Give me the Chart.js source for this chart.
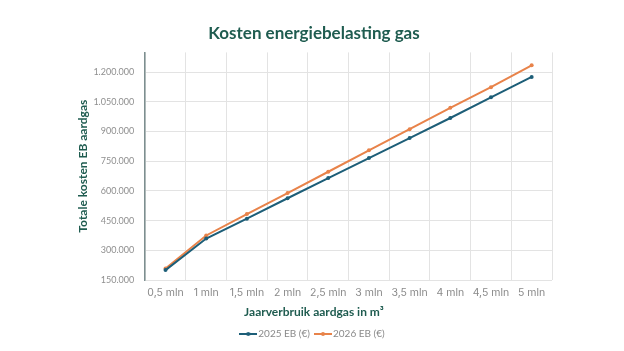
<!DOCTYPE html>
<html>
<head>
<meta charset="utf-8">
<script src="https://cdn.jsdelivr.net/npm/chart.js@4"></script>
<style>
  body { margin: 0; background: #fff; }
  #wrap { width: 624px; height: 351px; }
</style>
</head>
<body>
<div id="wrap"><canvas id="gasChart" width="624" height="351"></canvas></div>
<script>
const categories = ['0,5 mln', '1 mln', '1,5 mln', '2 mln', '2,5 mln', '3 mln', '3,5 mln', '4 mln', '4,5 mln', '5 mln'];
const eb2025 = [200000, 359500, 460000, 563000, 665000, 766000, 867000, 968500, 1073000, 1176000];
const eb2026 = [208000, 375000, 483000, 589000, 697000, 805000, 912000, 1020000, 1124000, 1235000];
const yTicks = [150000, 300000, 450000, 600000, 750000, 900000, 1050000, 1200000];

const blue = '#1d5e78';
const orange = '#e8834a';
const teal = '#1f5c50';

function fmt(v) {
  return String(v).replace(/\B(?=(\d{3})+(?!\d))/g, '.');
}

// little line+dot marker for the legend
function marker(color) {
  const c = document.createElement('canvas');
  c.width = 18; c.height = 8;
  const g = c.getContext('2d');
  g.strokeStyle = color; g.lineWidth = 2;
  g.beginPath(); g.moveTo(0, 4); g.lineTo(18, 4); g.stroke();
  g.fillStyle = color;
  g.beginPath(); g.arc(9, 4, 2, 0, Math.PI * 2); g.fill();
  return c;
}

const ctx = document.getElementById('gasChart');

new Chart(ctx, {
  type: 'line',
  data: {
    labels: categories,
    datasets: [{
      label: '2025 EB (€)',
      data: eb2025,
      borderColor: blue,
      backgroundColor: blue,
      borderWidth: 2,
      pointRadius: 2,
      pointBorderWidth: 0,
      tension: 0
    }, {
      label: '2026 EB (€)',
      data: eb2026,
      borderColor: orange,
      backgroundColor: orange,
      borderWidth: 2,
      pointRadius: 2,
      pointBorderWidth: 0,
      tension: 0
    }]
  },
  options: {
    responsive: false,
    animation: false,
    layout: { padding: { left: 76, right: 72, top: 17, bottom: 2 } },
    scales: {
      x: {
        offset: true,
        grid: { offset: true, color: '#e3e3e3', drawTicks: false },
        border: { display: false },
        ticks: { color: '#8a8a8a', font: { family: 'Inter', size: 10.5 }, padding: 7, maxRotation: 0 }
      },
      y: {
        min: 150000,
        max: 1300000,
        afterBuildTicks: axis => {
          axis.ticks = yTicks.map(v => ({ value: v }));
        },
        grid: { color: '#e3e3e3', drawTicks: false },
        border: { display: true, color: '#7d8f90', width: 1.5 },
        ticks: {
          color: '#8f8f8f',
          font: { family: 'Lato', size: 9 },
          padding: 11,
          callback: v => fmt(v)
        },
        title: {
          display: true,
          text: 'Totale kosten EB aardgas',
          color: teal,
          font: { family: 'Lato', size: 12, weight: 'bold' },
          padding: { top: 0, bottom: -8 }
        }
      }
    },
    plugins: {
      title: {
        display: true,
        text: 'Kosten energiebelasting gas',
        color: teal,
        font: { family: 'Lato', size: 17, weight: 'bold' },
        padding: { top: 6, bottom: 9 }
      },
      // x-axis title sits centred on the whole picture, not on the plot
      subtitle: {
        display: true,
        position: 'bottom',
        weight: 500,
        text: 'Jaarverbruik aardgas in m³',
        color: teal,
        font: { family: 'Lato', size: 12, weight: 'bold' },
        padding: { top: -2, bottom: 2 }
      },
      legend: {
        position: 'bottom',
        weight: 1000,
        labels: {
          color: '#8a8a8a',
          font: { family: 'Lato', size: 10 },
          usePointStyle: true,
          boxHeight: 8,
          padding: 8,
          generateLabels: chart => Chart.defaults.plugins.legend.labels.generateLabels(chart).map(l => {
            l.pointStyle = marker(chart.data.datasets[l.datasetIndex].borderColor);
            return l;
          })
        }
      },
      tooltip: { enabled: false }
    }
  }
});
</script>
</body>
</html>
